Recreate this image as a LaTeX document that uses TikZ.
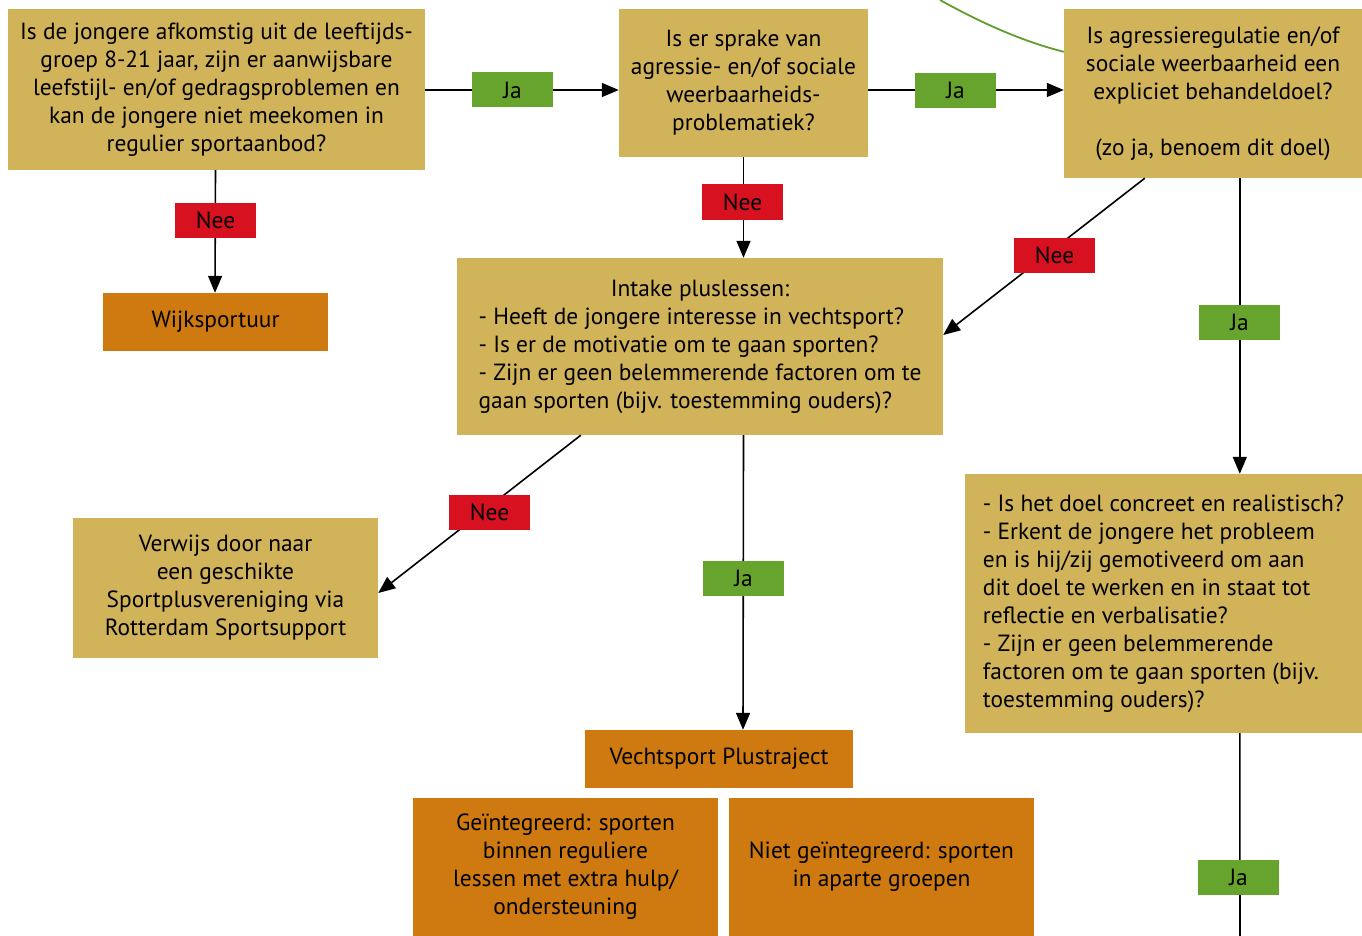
\documentclass[tikz,border=0pt]{standalone}
\usepackage{fontspec}
\setmainfont{PT Sans}
\usetikzlibrary{arrows.meta,calc}
\definecolor{gold}{RGB}{209,179,90}
\definecolor{oranje}{RGB}{207,122,16}
\definecolor{rood}{RGB}{215,17,31}
\definecolor{groen}{RGB}{102,164,45}
\definecolor{curvegreen}{RGB}{95,158,46}
\tikzset{
  box/.style={fill=gold, inner sep=0pt, align=center, font=\fontsize{23.4}{28}\selectfont},
  obox/.style={fill=oranje, inner sep=0pt, align=center, font=\fontsize{23.4}{28}\selectfont},
  yes/.style={fill=groen, minimum width=81pt, minimum height=35pt, inner sep=0pt, font=\fontsize{23.4}{26}\selectfont},
  no/.style={fill=rood, minimum width=81pt, minimum height=35pt, inner sep=0pt, font=\fontsize{23.4}{26}\selectfont},
  conn/.style={line width=1.6pt, -{Triangle[length=17pt,width=14pt]}},
  plain/.style={line width=1.6pt}
}
\begin{document}
\begin{tikzpicture}[x=1pt,y=-1pt]
\useasboundingbox (0,0) rectangle (1362,936);
% boxes
\node[box, minimum width=417pt, minimum height=161pt] (b1) at (216.5,89.5)
  {Is de jongere afkomstig uit de leeftijds-\\groep 8-21 jaar, zijn er aanwijsbare\\leefstijl- en/of gedragsproblemen en\\kan de jongere niet meekomen in\\regulier sportaanbod?};
\node[box, minimum width=249pt, minimum height=148pt] (b2) at (743.5,83)
  {Is er sprake van\\agressie- en/of sociale\\weerbaarheids-\\problematiek?};
\node[box, minimum width=298pt, minimum height=169pt] (b3) at (1213,93.5)
  {Is agressieregulatie en/of\\sociale weerbaarheid een\\expliciet behandeldoel?\\[28pt](zo ja, benoem dit doel)};
\node[obox, minimum width=225pt, minimum height=58pt] (wijk) at (215.5,322) {Wijksportuur};
\node[box, minimum width=486pt, minimum height=177pt] (intake) at (700,346.5)
  {\begin{tabular}{@{}l@{}}\multicolumn{1}{@{}c@{}}{Intake pluslessen:}\\- Heeft de jongere interesse in vechtsport?\\- Is er de motivatie om te gaan sporten?\\- Zijn er geen belemmerende factoren om te\\gaan sporten (bijv. toestemming ouders)?\end{tabular}};
\node[box, minimum width=305pt, minimum height=140pt] (verwijs) at (225.5,588)
  {Verwijs door naar\\een geschikte\\Sportplusvereniging via\\Rotterdam Sportsupport};
\node[obox, minimum width=268pt, minimum height=58pt] (vecht) at (719,759) {Vechtsport Plustraject};
\node[obox, minimum width=305pt, minimum height=138pt] (integr) at (565.5,867)
  {Geïntegreerd: sporten\\binnen reguliere\\lessen met extra hulp/\\ondersteuning};
\node[obox, minimum width=305pt, minimum height=138pt] (nietintegr) at (881.5,867)
  {Niet geïntegreerd: sporten\\in aparte groepen};
\node[box, minimum width=397pt, minimum height=259pt, align=left] (b4) at (1163.5,603.5)
  {- Is het doel concreet en realistisch?\\- Erkent de jongere het probleem\\en is hij/zij gemotiveerd om aan\\dit doel te werken en in staat tot\\reflectie en verbalisatie?\\- Zijn er geen belemmerende\\factoren om te gaan sporten (bijv.\\toestemming ouders)?};
% curve at top
\coordinate (gtop) at (940,0);
\draw[curvegreen, line width=1.8pt] (gtop) .. controls (985,25) and (1025,42) .. ($(b3.north west)+(0,43)$);
% connectors
\draw[conn] ($(b1.east)+(0,0.5)$) -- ($(b2.west)+(0,7)$);
\draw[conn] ($(b2.east)+(0,7)$) -- ($(b3.west)+(0,-3.5)$);
\draw[conn] ($(b1.south)+(-1,0)$) -- ($(wijk.north)+(-0.5,0)$);
\draw[conn] (b2.south) -- ($(intake.north)+(43.5,0)$);
\draw[conn] ($(b3.south west)+(81,0)$) -- ($(intake.east)+(0,-11.5)$);
\draw[conn] ($(b3.south west)+(176,0)$) -- ($(b4.north west)+(275,0)$);
\draw[conn] ($(intake.south west)+(124,0)$) -- ($(verwijs.east)+(0,5)$);
\draw[conn] ($(intake.south)+(43.5,0)$) -- ($(vecht.north)+(24,0)$);
\coordinate (bot) at (1240,936);
\draw[plain] ($(b4.south west)+(275,0)$) -- (bot);
% labels
\node[yes] (ja1) at (512.5,90) {Ja};
\node[yes] (ja2) at (955.5,90.5) {Ja};
\node[no] (nee1) at (215.5,220.5) {Nee};
\node[no] (nee2) at (742.5,202) {Nee};
\node[no] (nee3) at (1054.5,255.5) {Nee};
\node[yes] (ja3) at (1239.5,322.5) {Ja};
\node[no] (nee4) at (489.5,512.5) {Nee};
\node[yes] (ja4) at (743.5,578.5) {Ja};
\node[yes] (ja5) at (1238.5,877) {Ja};
\end{tikzpicture}
\end{document}
